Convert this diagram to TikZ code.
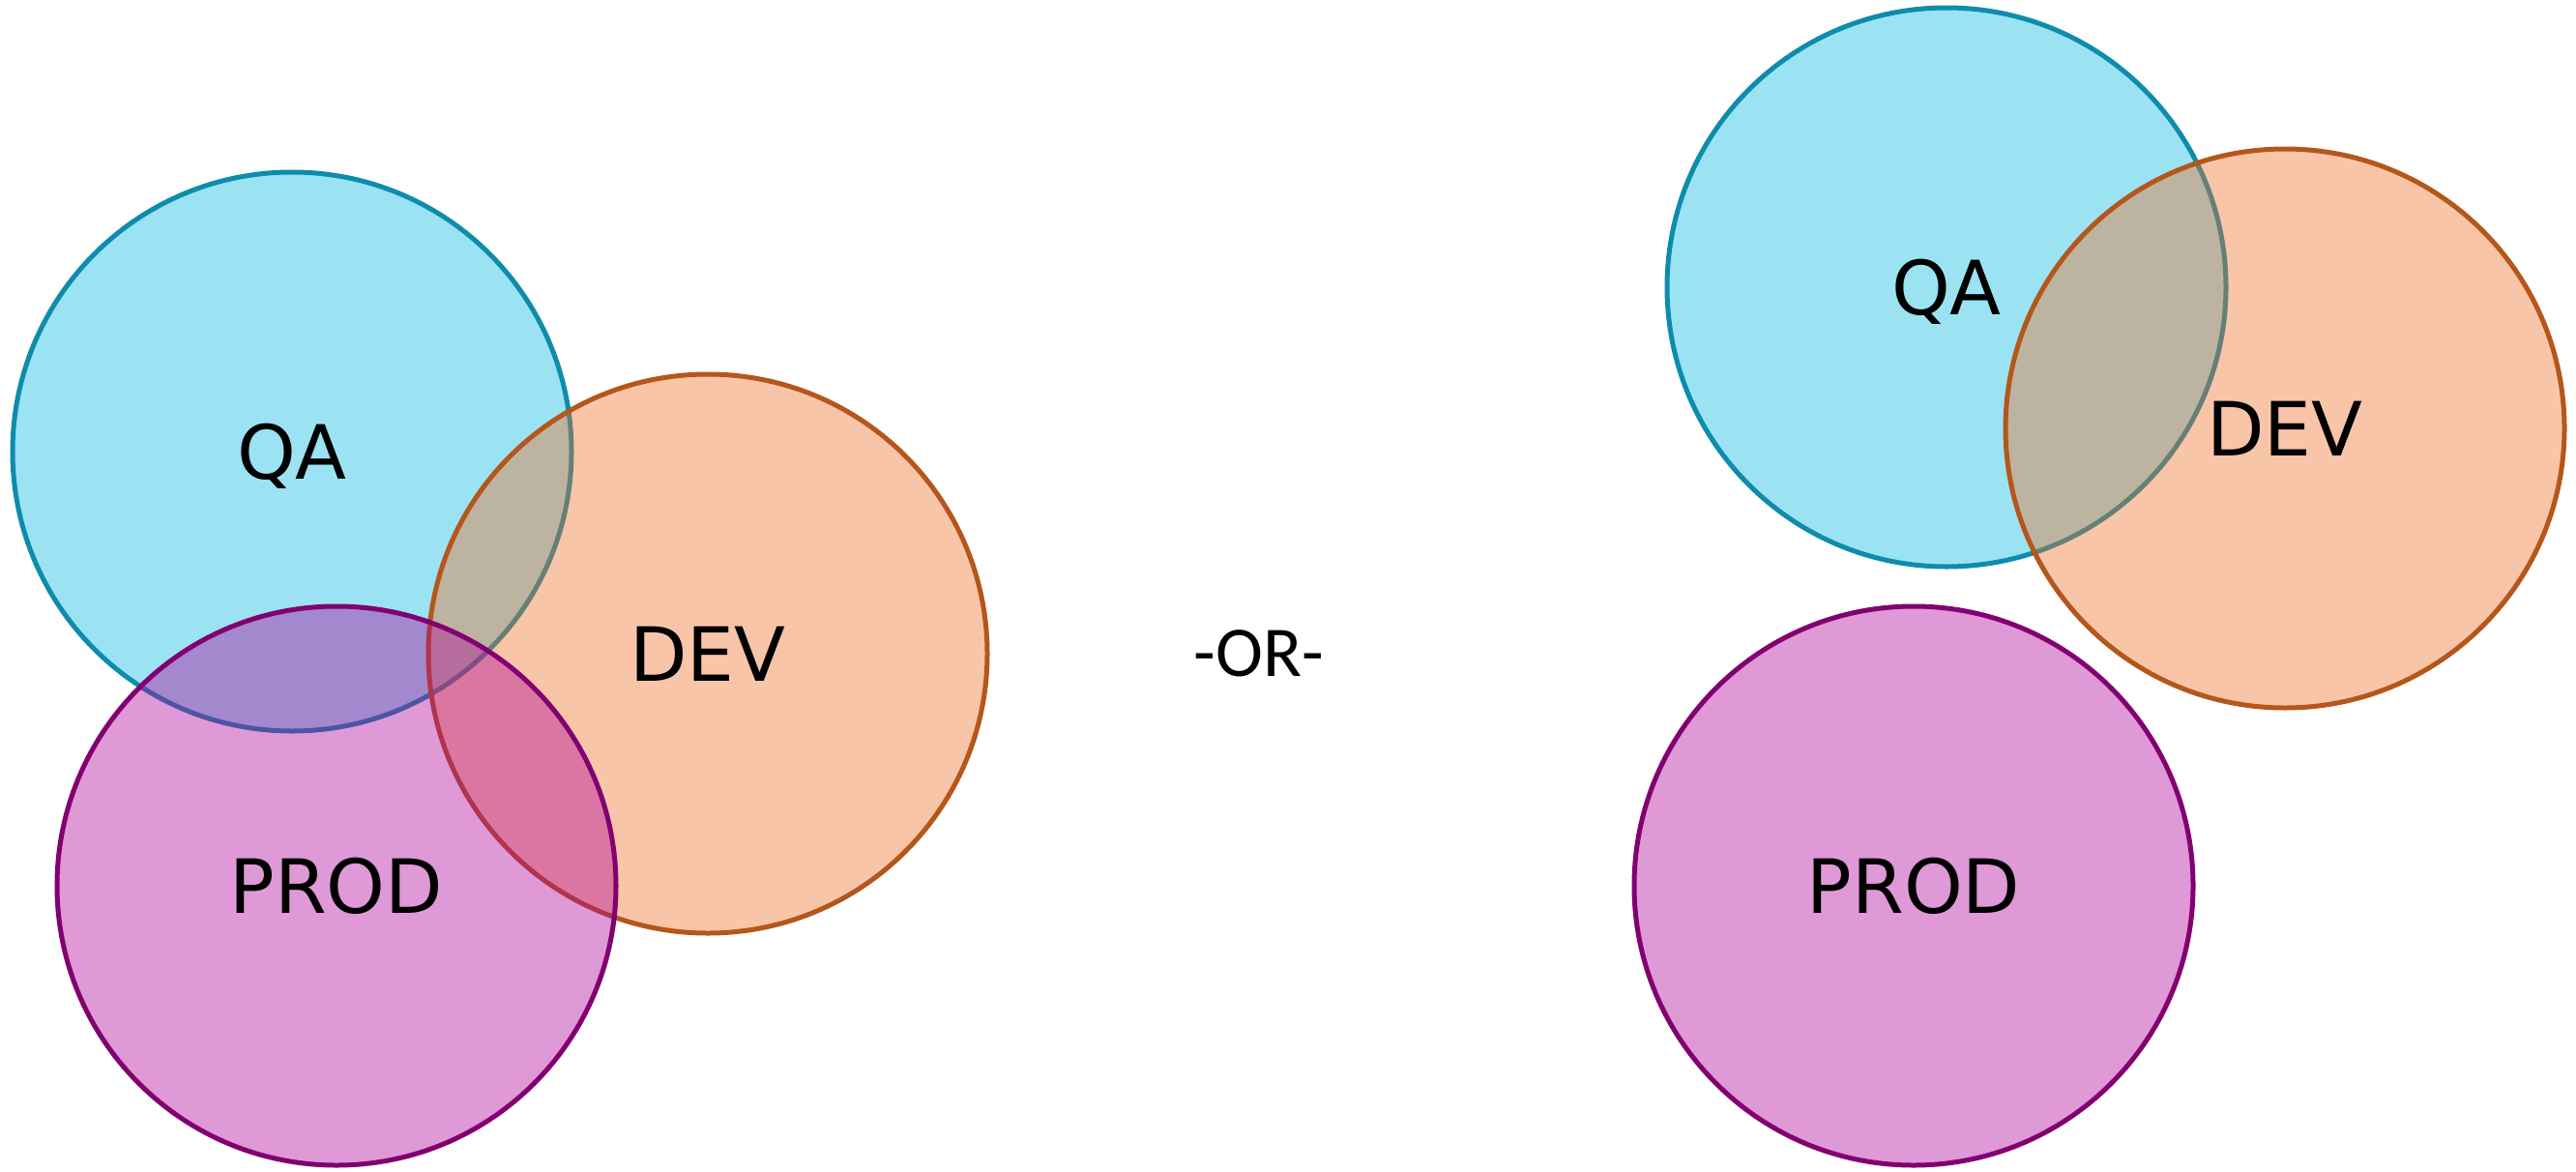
\documentclass[tikz,border=0pt]{standalone}
\usepackage{fontspec}
\setmainfont{DejaVu Sans}
\newfontfamily\orfont{Carlito}
\usetikzlibrary{positioning}

\definecolor{qafill}{RGB}{5,185,225}
\definecolor{qaline}{RGB}{14,140,172}
\definecolor{devfill}{RGB}{237,110,38}
\definecolor{devline}{RGB}{181,86,26}
\definecolor{prodfill}{RGB}{175,0,152}
\definecolor{prodline}{RGB}{130,0,112}

\begin{document}
\begin{tikzpicture}

	\tikzstyle{env} = [circle, draw, line width=0.05cm, minimum size=5.78cm, inner sep=0pt, fill opacity=0.4, text opacity=1, font=\fontsize{22}{26}\selectfont, text height=16pt, text depth=0pt]
	\tikzstyle{qa} = [env, fill=qafill, draw=qaline]
	\tikzstyle{dev} = [env, fill=devfill, draw=devline]
	\tikzstyle{prod} = [env, fill=prodfill, draw=prodline]

	\useasboundingbox (0,0) rectangle (26.64,12.11);

	% all three environments overlapping
	\node [qa] (qa1) at (3.02,7.44) {QA};
	\node [dev] (dev1) at (7.32,5.35) {DEV};
	\node [prod] (prod1) at (3.48,2.95) {PROD};

	\node [font=\orfont\fontsize{21}{25}\selectfont, text height=13.5pt, text depth=0pt] (or) at (13.02,5.35) {-OR-};

	% production kept apart
	\node [qa] (qa2) at (20.13,9.14) {QA};
	\node [dev] (dev2) at (23.63,7.68) {DEV};
	\node [prod] (prod2) at (19.79,2.95) {PROD};

\end{tikzpicture}
\end{document}
